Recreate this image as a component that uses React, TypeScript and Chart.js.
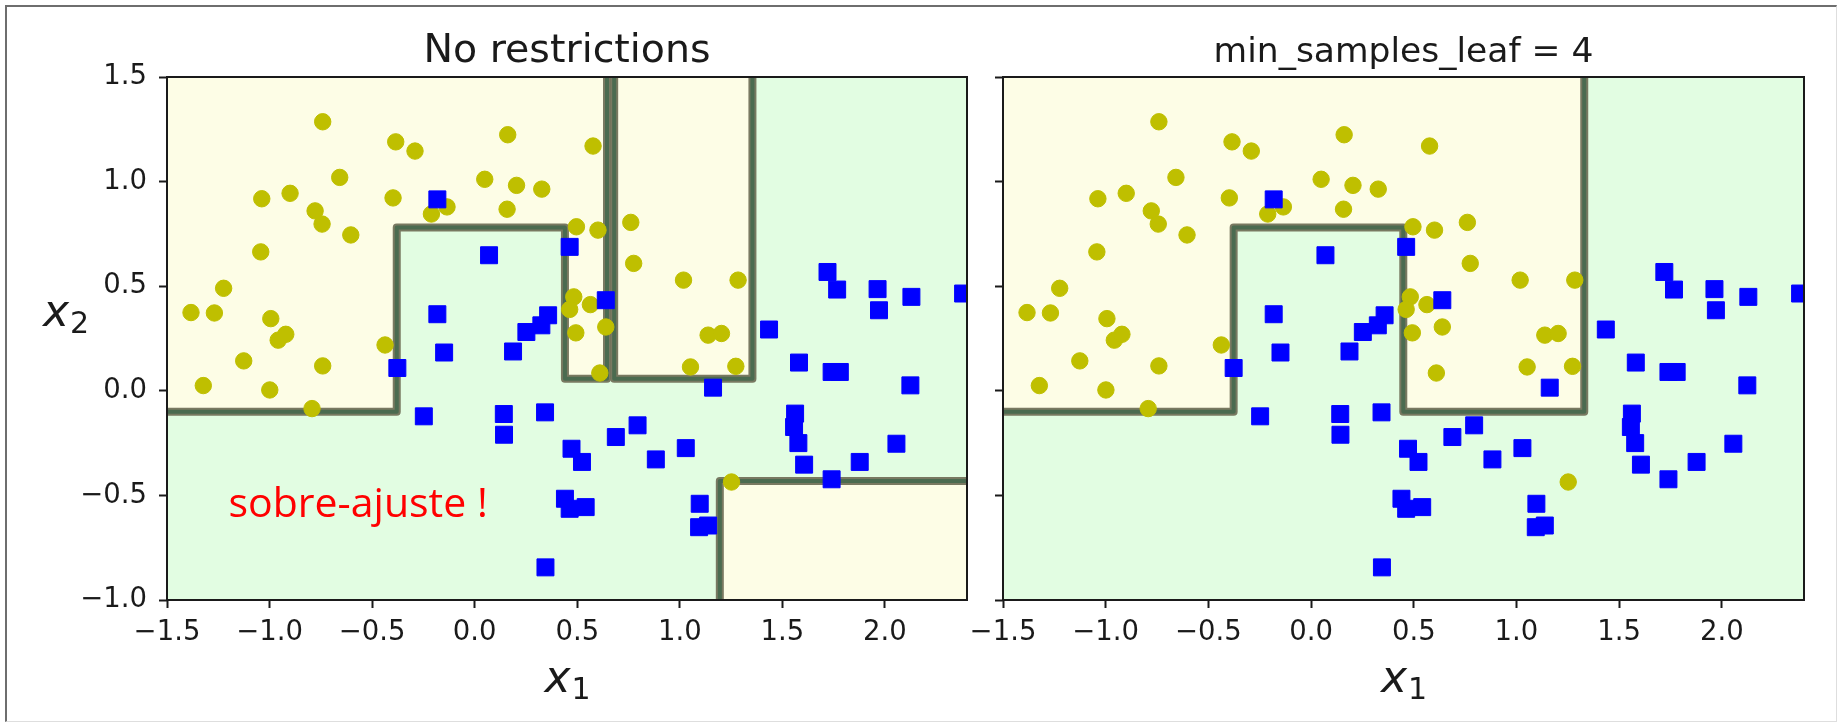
import React, { useEffect, useRef } from 'react';
import { Chart, registerables } from 'chart.js';

Chart.register(...registerables);

// ---------- data ----------
const X_MIN = -1.5;
const X_MAX = 2.4;
const Y_MIN = -1.0;
const Y_MAX = 1.5;
const X_TICKS = [-1.5, -1.0, -0.5, 0.0, 0.5, 1.0, 1.5, 2.0];
const Y_TICKS = [-1.0, -0.5, 0.0, 0.5, 1.0, 1.5];

// class 0 (yellow circles)
const YELLOW_X = [-0.741, -0.385, -0.291, 0.161, -0.658, -1.038, -0.9, -0.778, -0.744, -0.604, -0.398, -0.211, -0.135, 0.049, 0.204, 0.327, 0.158, -1.043, -1.224, -1.383, -1.269, -0.994, -0.958, -0.921, -0.437, -1.126, -1.323, -0.999, -0.741, -0.793, 0.577, 0.496, 0.601, 0.761, 0.775, 1.018, 1.284, 0.483, 0.463, 0.564, 0.493, 0.639, 1.138, 1.203, 0.61, 1.052, 1.273, 1.252];
const YELLOW_Y = [1.286, 1.19, 1.146, 1.224, 1.02, 0.918, 0.944, 0.86, 0.797, 0.745, 0.922, 0.845, 0.879, 1.011, 0.982, 0.964, 0.868, 0.664, 0.49, 0.374, 0.372, 0.345, 0.242, 0.27, 0.219, 0.143, 0.025, 0.004, 0.119, -0.085, 1.17, 0.784, 0.768, 0.805, 0.609, 0.529, 0.529, 0.449, 0.389, 0.412, 0.277, 0.305, 0.266, 0.274, 0.085, 0.114, 0.117, -0.436];

// class 1 (blue squares)
const BLUE_X = [-0.182, 0.07, -0.182, 0.358, 0.325, 0.252, 0.463, -0.377, -0.149, 0.187, -0.248, 0.142, 0.143, 0.343, 0.472, 0.44, 0.463, 0.541, 0.345, 0.639, 1.435, 1.72, 1.767, 1.964, 1.971, 2.129, 2.381, 1.581, 1.74, 1.78, 2.124, 1.162, 1.562, 1.557, 1.578, 1.606, 2.056, 1.877, 1.74, 0.794, 0.688, 0.883, 1.029, 0.523, 1.097, 1.094, 1.138];
const BLUE_Y = [0.915, 0.648, 0.366, 0.361, 0.313, 0.281, 0.688, 0.109, 0.183, 0.188, -0.122, -0.111, -0.21, -0.103, -0.277, -0.516, -0.564, -0.556, -0.844, 0.433, 0.293, 0.568, 0.484, 0.486, 0.385, 0.449, 0.465, 0.135, 0.09, 0.09, 0.026, 0.015, -0.109, -0.173, -0.25, -0.353, -0.253, -0.34, -0.423, -0.165, -0.221, -0.328, -0.274, -0.34, -0.54, -0.652, -0.644];

// decision boundaries (polylines, data coords)
const LEFT_BOUNDARY_A = [[-1.5, -0.1], [-0.38, -0.1], [-0.38, 0.78], [0.44, 0.78], [0.44, 0.058], [0.645, 0.058], [0.645, 1.5]];
const LEFT_BOUNDARY_B = [[0.68, 1.5], [0.68, 0.058], [1.354, 0.058], [1.354, 1.5]];
const LEFT_BOUNDARY_C = [[1.195, -1.0], [1.195, -0.431], [2.4, -0.431]];
const RIGHT_BOUNDARY = [[-1.5, -0.1], [-0.377, -0.1], [-0.377, 0.78], [0.449, 0.78], [0.449, -0.1], [1.33, -0.1], [1.33, 1.5]];

// yellow (class 0) decision regions (polygons, data coords)
const LEFT_YELLOW_REGIONS = [
  [[-1.5, -0.1], [-0.38, -0.1], [-0.38, 0.78], [0.44, 0.78], [0.44, 0.058], [0.645, 0.058], [0.645, 1.5], [-1.5, 1.5]],
  [[0.68, 1.5], [0.68, 0.058], [1.354, 0.058], [1.354, 1.5]],
  [[1.195, -1.0], [1.195, -0.431], [2.4, -0.431], [2.4, -1.0]],
];
const RIGHT_YELLOW_REGIONS = [
  [[-1.5, -0.1], [-0.377, -0.1], [-0.377, 0.78], [0.449, 0.78], [0.449, -0.1], [1.33, -0.1], [1.33, 1.5], [-1.5, 1.5]],
];

const TITLE_LEFT = 'No restrictions';
const TITLE_RIGHT = 'min_samples_leaf = 4';
const ANNOTATION_TEXT = 'sobre-ajuste !';
const ANNOTATION_POS = [-1.2, -0.605];

// ---------- styles ----------
const GREEN_BG = '#e2fde2';
const YELLOW_BG = '#fdfde6';
const LINE_OUTER = 'rgba(114,114,90,0.95)';
const LINE_INNER = '#4b6b50';
const AXIS_COLOR = '#1a1a1a';
const TEXT_COLOR = '#1a1a1a';
const FONT = '"DejaVu Sans", sans-serif';

const fmt = (v: number) => v.toFixed(1).replace('-', '\u2212');

type Panel = {
  yAxisWidth: number;
  padRight: number;
  showYLabels: boolean;
  title: string;
  titleSize: number;
  boundaries: number[][][];
  regions: number[][][];
  annotation: boolean;
  yLabel: boolean;
};

function drawMathLabel(ctx: CanvasRenderingContext2D, sub: string, x: number, baseline: number, align: 'center' | 'left') {
  const mainFont = `italic 44px ${FONT}`;
  const subFont = `30px ${FONT}`;
  ctx.font = mainFont;
  const w1 = ctx.measureText('x').width;
  ctx.font = subFont;
  const w2 = ctx.measureText(sub).width;
  const start = align === 'center' ? x - (w1 + w2) / 2 : x;
  ctx.textAlign = 'left';
  ctx.textBaseline = 'alphabetic';
  ctx.fillStyle = TEXT_COLOR;
  ctx.font = mainFont;
  ctx.fillText('x', start, baseline);
  ctx.font = subFont;
  ctx.fillText(sub, start + w1 + 1, baseline + 7);
}

function makePlugin(p: Panel) {
  return {
    id: 'panelDecor',
    beforeDatasetsDraw(chart: any) {
      const { ctx, chartArea: a, scales } = chart;
      const xs = scales.x;
      const ys = scales.y;
      ctx.save();
      ctx.beginPath();
      ctx.rect(a.left, a.top, a.right - a.left, a.bottom - a.top);
      ctx.clip();
      ctx.fillStyle = GREEN_BG;
      ctx.fillRect(a.left, a.top, a.right - a.left, a.bottom - a.top);
      ctx.fillStyle = YELLOW_BG;
      for (const poly of p.regions) {
        ctx.beginPath();
        poly.forEach(([vx, vy], i) => {
          const px = xs.getPixelForValue(vx);
          const py = ys.getPixelForValue(vy);
          if (i === 0) ctx.moveTo(px, py);
          else ctx.lineTo(px, py);
        });
        ctx.closePath();
        ctx.fill();
      }
      ctx.restore();
    },
    afterDatasetsDraw(chart: any) {
      const { ctx, chartArea: a, scales } = chart;
      ctx.save();
      if (p.annotation) {
        ctx.fillStyle = '#ff0000';
        ctx.font = `41px "Open Sans", "Noto Sans", sans-serif`;
        ctx.textAlign = 'left';
        ctx.textBaseline = 'alphabetic';
        ctx.fillText(ANNOTATION_TEXT, scales.x.getPixelForValue(ANNOTATION_POS[0]), scales.y.getPixelForValue(ANNOTATION_POS[1]));
      }
      ctx.strokeStyle = AXIS_COLOR;
      ctx.lineWidth = 2;
      ctx.strokeRect(a.left, a.top, a.right - a.left, a.bottom - a.top);
      ctx.restore();
    },
    afterDraw(chart: any) {
      const { ctx, chartArea: a } = chart;
      ctx.save();
      ctx.fillStyle = TEXT_COLOR;
      ctx.font = `${p.titleSize}px ${FONT}`;
      ctx.textAlign = 'center';
      ctx.textBaseline = 'alphabetic';
      ctx.fillText(p.title, (a.left + a.right) / 2, 62);
      drawMathLabel(ctx, '1', (a.left + a.right) / 2, 692, 'center');
      if (p.yLabel) drawMathLabel(ctx, '2', 43, 326, 'left');
      ctx.restore();
    },
  };
}

function makeChart(canvas: HTMLCanvasElement, p: Panel) {
  const datasets: any[] = [];
  p.boundaries.forEach((b) => {
    datasets.push({
      data: b.map(([x, y]) => ({ x, y })),
      showLine: true,
      pointRadius: 0,
      borderColor: LINE_OUTER,
      borderWidth: 8,
      borderJoinStyle: 'round',
      borderCapStyle: 'butt',
      fill: false,
      clip: 0,
      order: 10,
    });
  });
  p.boundaries.forEach((b) => {
    datasets.push({
      data: b.map(([x, y]) => ({ x, y })),
      showLine: true,
      pointRadius: 0,
      borderColor: LINE_INNER,
      borderWidth: 4,
      borderJoinStyle: 'round',
      borderCapStyle: 'butt',
      fill: false,
      clip: 0,
      order: 9,
    });
  });
  datasets.push({
    data: YELLOW_X.map((x, i) => ({ x, y: YELLOW_Y[i] })),
    pointStyle: 'circle',
    pointRadius: 8.2,
    backgroundColor: '#bfbf00',
    borderColor: '#bfbf00',
    borderWidth: 1,
    clip: 0,
    order: 5,
  });
  datasets.push({
    data: BLUE_X.map((x, i) => ({ x, y: BLUE_Y[i] })),
    pointStyle: 'rect',
    pointRadius: 12,
    backgroundColor: '#0000ff',
    borderColor: '#0000ff',
    borderWidth: 1,
    clip: 0,
    order: 4,
  });

  const tickFont = { family: FONT, size: 27.5 };
  return new Chart(canvas, {
    type: 'scatter',
    data: { datasets },
    plugins: [makePlugin(p)],
    options: {
      responsive: false,
      devicePixelRatio: 1,
      animation: false,
      events: [],
      layout: { padding: { top: 77, right: p.padRight, left: 0, bottom: 0 } },
      plugins: { legend: { display: false }, tooltip: { enabled: false }, title: { display: false } },
      scales: {
        x: {
          type: 'linear',
          min: X_MIN,
          max: X_MAX,
          afterBuildTicks: (s: any) => { s.ticks = X_TICKS.map((v) => ({ value: v })); },
          afterFit: (s: any) => { s.height = 127; },
          ticks: { autoSkip: false, maxRotation: 0, callback: (v: any) => fmt(Number(v)), font: tickFont, color: TEXT_COLOR, padding: 8 },
          grid: { drawOnChartArea: false, drawTicks: true, tickLength: 8, tickWidth: 2, tickColor: AXIS_COLOR },
          border: { display: false },
        },
        y: {
          type: 'linear',
          min: Y_MIN,
          max: Y_MAX,
          afterBuildTicks: (s: any) => { s.ticks = Y_TICKS.map((v) => ({ value: v })); },
          afterFit: (s: any) => { s.width = p.yAxisWidth; },
          ticks: { autoSkip: false, callback: (v: any) => (p.showYLabels ? fmt(Number(v)) : ''), font: tickFont, color: TEXT_COLOR, padding: 12 },
          grid: { drawOnChartArea: false, drawTicks: true, tickLength: 8, tickWidth: 2, tickColor: AXIS_COLOR },
          border: { display: false },
        },
      },
    } as any,
  });
}

const LEFT_PANEL: Panel = {
  yAxisWidth: 167,
  padRight: 33,
  showYLabels: true,
  title: TITLE_LEFT,
  titleSize: 39.5,
  boundaries: [LEFT_BOUNDARY_A, LEFT_BOUNDARY_B, LEFT_BOUNDARY_C],
  regions: LEFT_YELLOW_REGIONS,
  annotation: true,
  yLabel: true,
};

const RIGHT_PANEL: Panel = {
  yAxisWidth: 63,
  padRight: 37,
  showYLabels: false,
  title: TITLE_RIGHT,
  titleSize: 34.5,
  boundaries: [RIGHT_BOUNDARY],
  regions: RIGHT_YELLOW_REGIONS,
  annotation: false,
  yLabel: false,
};

export default function App() {
  const leftRef = useRef<HTMLCanvasElement>(null);
  const rightRef = useRef<HTMLCanvasElement>(null);
  useEffect(() => {
    const c1 = makeChart(leftRef.current as HTMLCanvasElement, LEFT_PANEL);
    const c2 = makeChart(rightRef.current as HTMLCanvasElement, RIGHT_PANEL);
    return () => {
      c1.destroy();
      c2.destroy();
    };
  }, []);
  return (
    <div style={{ position: 'absolute', left: 0, top: 0, width: 1841, height: 727, background: '#fff', overflow: 'hidden' }}>
      <div
        style={{
          position: 'absolute', left: 5, top: 5, width: 1832, height: 717, boxSizing: 'border-box',
          borderLeft: '2px solid #6e6e6e', borderTop: '2px solid #6e6e6e',
          borderRight: '1px solid #dedede', borderBottom: '1px solid #dedede',
        }}
      />
      <canvas ref={leftRef} width={1000} height={727} style={{ position: 'absolute', left: 0, top: 0 }} />
      <canvas ref={rightRef} width={901} height={727} style={{ position: 'absolute', left: 940, top: 0 }} />
    </div>
  );
}
